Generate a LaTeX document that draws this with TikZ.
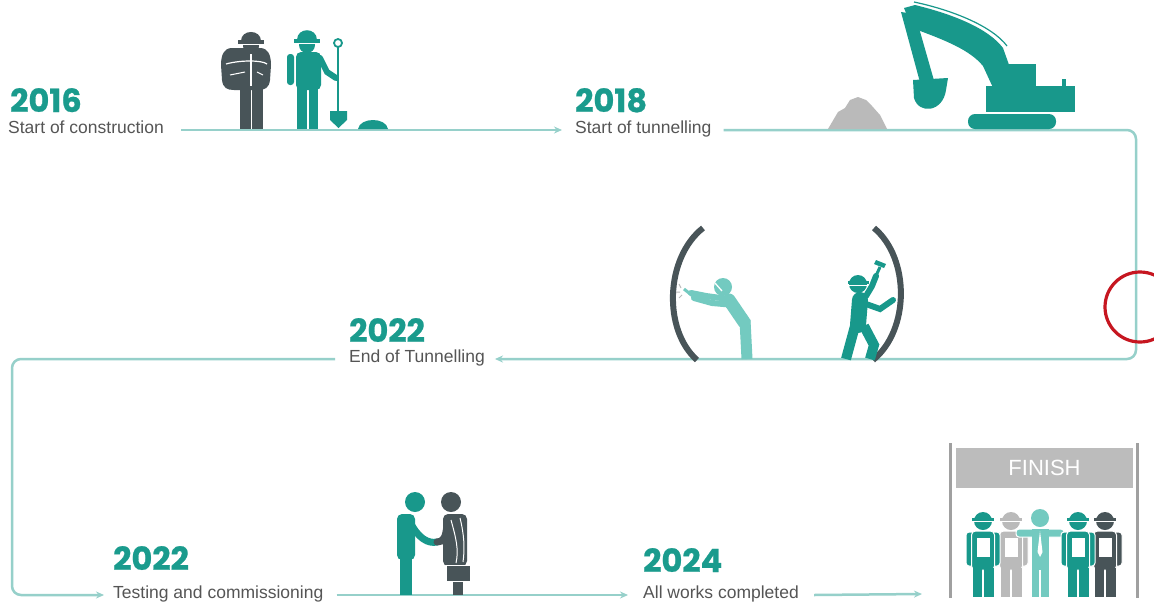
\documentclass[tikz,border=0pt]{standalone}
\usepackage{fontspec}
\setmainfont{Liberation Sans}
\newfontfamily\yearfont{Poppins}[BoldFeatures={FakeBold=0.8}]
\usetikzlibrary{arrows.meta}

\definecolor{tealdark}{RGB}{26,155,141}
\definecolor{tealfig}{RGB}{24,152,139}
\definecolor{teallight}{RGB}{115,202,192}
\definecolor{darkgrey}{RGB}{72,84,88}
\definecolor{lightgrey}{RGB}{186,186,186}
\definecolor{linecol}{RGB}{150,208,202}
\definecolor{textgrey}{RGB}{85,85,85}
\definecolor{redmark}{RGB}{198,22,32}
\definecolor{bannergrey}{RGB}{188,188,188}
\definecolor{postgrey}{RGB}{160,160,160}

\tikzset{
  year/.style={anchor=base west, inner sep=0pt, text depth=0pt, text=tealdark,
    font=\yearfont\bfseries\fontsize{32}{32}\selectfont},
  desc/.style={anchor=base west, inner sep=0pt, text=textgrey,
    font=\fontsize{17.5}{20}\selectfont},
  conn/.style={draw=linecol, line width=2.5pt,
    -{Stealth[length=8pt,width=7pt]}},
  roundturn/.style={rounded corners=9pt},
}

% one worker of the finishing crew, centred at x = #1
\newcommand\crewworker[2]{%
  \begin{scope}[shift={(#1,0)}]
    \fill[#2, draw=white, line width=1pt, rounded corners=3pt] (-17,532) rectangle (17,566);
    \fill[#2, draw=white, line width=1pt, rounded corners=4pt] (-11.5,531) rectangle (11.5,570);
    \fill[white] (-6.5,538) rectangle (6.5,557);
    \fill[#2] (-10.5,568) rectangle (-1,597);
    \fill[#2] (1,568) rectangle (10.5,597);
    \fill[#2] (0,521) circle (9);
    \fill[#2] (-11,517.5) rectangle (11,520.5);
    \draw[white, line width=0.9pt] (-9.5,521.5) -- (9.5,521.5);
  \end{scope}}

\begin{document}
\begin{tikzpicture}[x=1pt, y=-1pt]
\useasboundingbox (0,0) rectangle (1154,606);
\fill[white] (0,0) rectangle (1154,606);

% ---------- milestone labels ----------
\node[year] (y2016) at (10,112) {2016};
\node[desc] (d2016) at (8,133) {Start of construction};
\node[year] (y2018) at (575,112) {2018};
\node[desc] (d2018) at (575,133) {Start of tunnelling};
\node[year] (y2022a) at (349,342) {2022};
\node[desc] (d2022a) at (349,362) {End of Tunnelling};
\node[year] (y2022b) at (113,570) {2022};
\node[desc] (d2022b) at (113,598) {Testing and commissioning};
\node[year] (y2024) at (643,572) {2024};
\node[desc] (d2024) at (643,598) {All works completed};

% ---------- finish gate ----------
\draw[postgrey, line width=3pt] (950,443) -- (950,598);
\draw[postgrey, line width=3pt] (1137,443) -- (1137,598);
\node[fill=bannergrey, minimum width=177pt, minimum height=40pt, inner sep=0pt,
      text=white, font=\fontsize{22}{24}\selectfont] (finish) at (1044.5,468) {FINISH};
\coordinate (gate) at (950,594);

% ---------- timeline connectors ----------
\coordinate (bendR) at (1136,245);
\coordinate (bendL) at (12,480);
\draw[conn] ([xshift=17pt,yshift=3pt]d2016.base east) -- ([xshift=-13pt,yshift=3pt]d2018.base west);
\draw[conn, roundturn] ([xshift=12pt,yshift=3pt]d2018.base east) -| (bendR) |- ([xshift=10pt,yshift=3pt]d2022a.base east);
\draw[conn, roundturn] ([xshift=-14pt,yshift=3pt]d2022a.base west) -| (bendL) |- ([xshift=-9pt,yshift=3pt]d2022b.base west);
\draw[conn] ([xshift=13pt,yshift=3pt]d2022b.base east) -- ([xshift=-15pt,yshift=3pt]d2024.base west);
\draw[conn] ([xshift=15pt,yshift=3pt]d2024.base east) -- ([xshift=-28pt]gate);

% ---------- red marker ----------
\node[circle, draw=redmark, line width=3.2pt, minimum size=70pt, inner sep=0pt] (marker) at (1140,307) {};

% ---------- two workers, 2016 ----------
% foreman with folded arms
\fill[darkgrey] (240,86) rectangle (250.5,129);
\fill[darkgrey] (252,86) rectangle (262.5,129);
\fill[darkgrey] (232,48) -- (260,48) .. controls (268,48) and (271,55) .. (271,65)
  -- (270,80) .. controls (269,88) and (265,90) .. (258,90) -- (234,90)
  .. controls (227,90) and (223,88) .. (222,80) -- (221,65)
  .. controls (221,55) and (224,48) .. (232,48) -- cycle;
\draw[white, line width=1.2pt] (226,64) .. controls (240,60) and (262,60) .. (267,64);
\draw[white, line width=1.2pt] (251,52) -- (251,86);
\draw[white, line width=1pt] (230,75) -- (245,72);
\draw[white, line width=1pt] (257,72) -- (263,75);
\fill[darkgrey] (251,46) circle (8);
\fill[darkgrey] (241,41) .. controls (241,29) and (261,29) .. (261,41) -- cycle;
\fill[darkgrey] (238,40) rectangle (264,43.5);
\draw[white, line width=0.9pt] (242,44.5) -- (260,44.5);
% worker with shovel
\fill[tealfig] (297,88) rectangle (306.5,129);
\fill[tealfig] (308.5,88) rectangle (318,129);
\fill[tealfig, rounded corners=5pt] (296,52) rectangle (321,90);
\fill[tealfig, rounded corners=3pt] (287,54) rectangle (294,85);
\draw[tealfig, line width=6pt, line cap=round] (320,58) -- (327,72) -- (336,78);
\fill[tealfig] (307,45) circle (8);
\fill[tealfig] (297,40) .. controls (297,27) and (317,27) .. (317,40) -- cycle;
\fill[tealfig] (294,39) rectangle (320,42.5);
\draw[white, line width=0.9pt] (298,43.5) -- (316,43.5);
\draw[tealfig, line width=2.5pt] (338,47) -- (338,113);
\draw[tealfig, line width=1.8pt] (338,43) circle (4);
\fill[tealfig] (330,111) -- (347,111) -- (347,120) -- (338.5,128) -- (330,120) -- cycle;
\fill[tealfig] (358,129) .. controls (360,117) and (386,117) .. (388,129) -- cycle;

% ---------- spoil heap and excavator, 2018 ----------
\fill[lightgrey] (828,129) -- (838,112) -- (845,108) -- (850,100) -- (858,97)
  -- (866,100) -- (872,106) -- (880,115) -- (887,129) -- cycle;
\fill[tealfig, rounded corners=7pt] (968,114) rectangle (1056,129);
\fill[tealfig] (986,86) rectangle (1075,112);
\fill[tealfig] (1005,64) rectangle (1036,88);
\fill[tealfig] (1062,79) rectangle (1066,87);
\fill[tealfig] (904,8) -- (915,5) .. controls (952,14) and (988,28) .. (1003,48)
  -- (1018,90) -- (995,92) -- (983,66) .. controls (970,50) and (945,40) .. (912,28) -- cycle;
\draw[tealfig, line width=1.2pt] (914,2) .. controls (952,10) and (992,26) .. (1007,46);
\fill[tealfig] (901,12) -- (915,14) -- (935,84) -- (921,86) -- cycle;
\fill[tealfig] (913,80) -- (948,78) -- (946,90) .. controls (943,112) and (919,115) .. (914,98) -- cycle;

% ---------- tunnel ring with two miners, 2022 ----------
\draw[darkgrey, line width=6pt] (703,228) .. controls (665,258) and (663,330) .. (697,360);
\draw[darkgrey, line width=6pt] (874,228) .. controls (910,258) and (910,330) .. (873,360);
% miner bent over, chiselling
\draw[teallight, line width=11pt] (745,320) -- (747,359);
\draw[teallight, line width=13pt, line cap=round] (729,300) -- (744,322);
\draw[teallight, line width=6pt, line cap=round] (728,299) -- (706,296) -- (691,293);
\draw[teallight, line width=6pt, line cap=round] (735,305) -- (712,303) -- (694,298);
\draw[teallight, line width=3pt] (684,289) -- (694,297);
\draw[lightgrey, line width=1pt] (679,284) -- (681,288) (676,292) -- (680,292) (679,298) -- (682,295);
\fill[teallight] (723,287) circle (9);
\draw[white, line width=1.3pt] (715,283) -- (722,291);
% miner with hammer
\draw[tealfig, line width=10pt] (855,326) -- (846,359);
\draw[tealfig, line width=10pt] (864,326) -- (874,345) -- (870,359);
\draw[tealfig, line width=16pt, line cap=round] (860,300) -- (858,325);
\draw[tealfig, line width=6pt, line cap=round] (866,296) -- (872,286) -- (876,276);
\draw[tealfig, line width=3pt] (875,278) -- (880,267);
\fill[tealfig] (874,264) -- (884,268) -- (886,264) -- (876,260) -- cycle;
\draw[tealfig, line width=6pt, line cap=round] (866,304) -- (880,309) -- (893,300);
\fill[tealfig] (858,284) circle (9);
\fill[tealfig] (848,281) rectangle (869,284);
\draw[white, line width=1.3pt] (849,285.5) -- (868,285.5);

% ---------- handshake, commissioning ----------
\fill[tealfig] (400,556) rectangle (412,595);
\fill[tealfig, rounded corners=5pt] (397,514) rectangle (415,560);
\draw[tealfig, line width=7pt, line cap=round] (410,522) .. controls (418,538) and (428,544) .. (437,542);
\fill[tealfig] (415,502) circle (10);
\fill[darkgrey] (453,579) rectangle (463,595);
\fill[darkgrey, rounded corners=5pt] (443,514) rectangle (467,566);
\draw[white, line width=1pt] (451,520) .. controls (456,538) and (459,550) .. (456,563);
\draw[white, line width=1pt] (460,518) .. controls (464,534) and (465,548) .. (463,562);
\draw[darkgrey, line width=7pt, line cap=round] (447,524) .. controls (446,538) and (443,542) .. (437,542);
\fill[darkgrey, draw=white, line width=1pt] (446,565) rectangle (470,581);
\fill[darkgrey] (451,502) circle (10);

% ---------- finishing crew ----------
\crewworker{1011}{lightgrey}
\crewworker{983}{tealfig}
\begin{scope}[shift={(1040,0)}]
  \fill[teallight, draw=white, line width=1pt, rounded corners=3pt] (-24,529) rectangle (24,537);
  \fill[teallight] (-8.5,529) rectangle (8.5,570);
  \fill[white] (0,531) -- (2.5,552) -- (0,557) -- (-2.5,552) -- cycle;
  \fill[teallight] (-8.5,568) rectangle (-1,597);
  \fill[teallight] (1,568) rectangle (8.5,597);
  \fill[teallight] (0,518) circle (9);
\end{scope}
\crewworker{1105}{darkgrey}
\crewworker{1078}{tealfig}
\end{tikzpicture}
\end{document}
